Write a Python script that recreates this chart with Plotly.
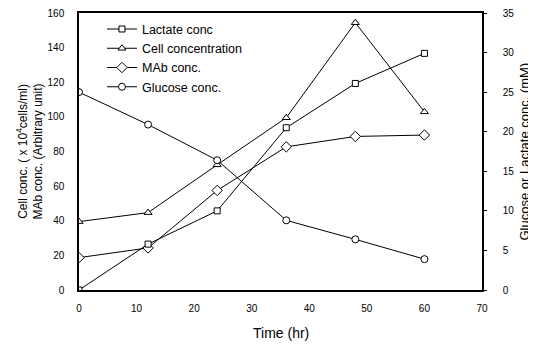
import plotly.graph_objects as go

time_hr = [0, 12, 24, 36, 48, 60]
lactate_mM = [0, 5.8, 10.0, 20.5, 26.1, 29.9]
cell_conc = [39.5, 44.7, 72.3, 99.5, 154.4, 102.9]
mab_conc = [18.7, 24.3, 57.5, 82.7, 88.7, 89.5]
glucose_mM = [25.0, 20.9, 16.4, 8.8, 6.4, 3.9]

x_title = "Time (hr)"
y_title = "Cell conc. ( x 10<sup>4</sup>cells/ml)<br>MAb conc. (Arbitrary unit)"
y2_title = "Glucose or Lactate conc. (mM)"

FONT = "Liberation Sans, Arial, sans-serif"
line_style = dict(color="black", width=1)

def marker(sym, size=7):
    return dict(symbol=sym, size=size, color="white", line=dict(color="black", width=1))

fig = go.Figure()
fig.add_trace(go.Scatter(x=time_hr, y=lactate_mM, name="Lactate conc", mode="lines+markers",
                         line=line_style, marker=marker("square", 6), yaxis="y2"))
fig.add_trace(go.Scatter(x=time_hr, y=cell_conc, name="Cell concentration", mode="lines+markers",
                         line=line_style, marker=marker("triangle-up", 7)))
fig.add_trace(go.Scatter(x=time_hr, y=mab_conc, name="MAb conc.", mode="lines+markers",
                         line=line_style, marker=marker("diamond", 8)))
fig.add_trace(go.Scatter(x=time_hr, y=glucose_mM, name="Glucose conc.", mode="lines+markers",
                         line=line_style, marker=marker("circle", 7), yaxis="y2"))

axis_common = dict(showgrid=False, zeroline=False, showline=True, linecolor="black", linewidth=1.5,
                   automargin=False, ticklabeloverflow="allow",
                   tickfont=dict(family=FONT, size=10, color="black"))

# page has an 8px body margin; figure is sized so the plot lands where the reference has it
fig.update_layout(
    width=528, height=336,
    margin=dict(l=71, r=54, t=5, b=54),
    paper_bgcolor="white", plot_bgcolor="white",
    font=dict(family=FONT, color="black"),
    showlegend=True,
    legend=dict(x=0.057, y=0.995, xanchor="left", yanchor="top", bgcolor="rgba(0,0,0,0)",
                font=dict(family=FONT, size=12.5, color="black"), itemwidth=30, tracegroupgap=0),
    xaxis=dict(range=[0, 70], dtick=10, mirror=True, ticks="", ticklabelstandoff=8, **axis_common),
    yaxis=dict(range=[0, 160], dtick=20, ticks="", ticklabelstandoff=11, **axis_common),
    yaxis2=dict(range=[0, 35], dtick=5, overlaying="y", side="right", ticks="outside", ticklen=3,
                tickcolor="black", ticklabelstandoff=14, **axis_common),
    annotations=[
        dict(text=x_title, xref="paper", yref="paper", x=0.5, y=0, xanchor="center", yanchor="middle",
             yshift=-43, showarrow=False, font=dict(family=FONT, size=14, color="black")),
        dict(text=y_title, xref="paper", yref="paper", x=0, y=0.5, xanchor="center", yanchor="middle",
             xshift=-50, textangle=-90, showarrow=False, font=dict(family=FONT, size=12, color="black")),
        dict(text=y2_title, xref="paper", yref="paper", x=1, y=0.5, xanchor="center", yanchor="middle",
             xshift=42, textangle=-90, showarrow=False, font=dict(family=FONT, size=13, color="black")),
    ],
)

fig.write_html("out.html")
